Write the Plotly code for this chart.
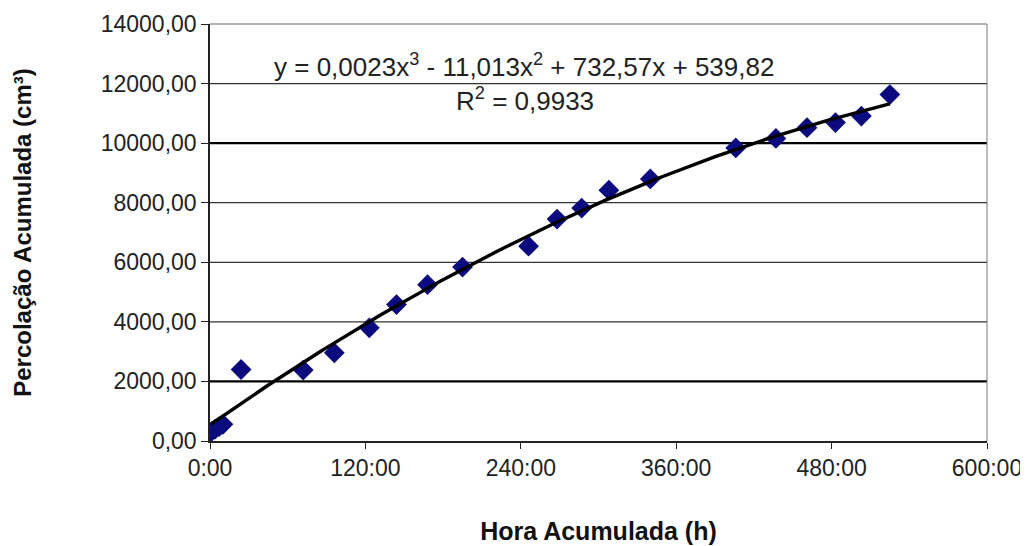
import numpy as np
import plotly.graph_objects as go

# measured points: accumulated time (h) and accumulated percolation (cm3)
hours = [1, 4, 7, 10, 24, 72, 96, 123, 144, 168, 195, 246, 268, 287, 308, 340,
         406, 437, 461, 483, 503, 525]
percolation = [310, 400, 480, 560, 2400, 2380, 2960, 3800, 4580, 5250, 5840, 6540,
               7450, 7820, 8420, 8800, 9840, 10160, 10520, 10690, 10910, 11630]

# cubic trendline as printed on the chart (x in days)
coefs = [0.0023, -11.013, 732.57, 539.82]
r2_text = "0,9933"

x_ticks = [0, 120, 240, 360, 480, 600]
x_tick_labels = ["0:00", "120:00", "240:00", "360:00", "480:00", "600:00"]
y_ticks = [0, 2000, 4000, 6000, 8000, 10000, 12000, 14000]
y_tick_labels = ["0,00", "2000,00", "4000,00", "6000,00", "8000,00",
                 "10000,00", "12000,00", "14000,00"]

font = "Liberation Sans, Arial, sans-serif"

# trend curve over the range of the data
trend_h = np.linspace(min(hours), max(hours), 200)
trend_y = np.polyval(coefs, trend_h / 24.0)

fig = go.Figure()

# gridlines: 2000 and 10000 drawn heavier, the rest thinner
for v in y_ticks[1:-1]:
    heavy = v in (2000, 10000)
    fig.add_shape(type="line", xref="x", yref="y", x0=0, x1=600, y0=v, y1=v,
                  line=dict(color="#000000" if heavy else "#333333",
                            width=2.2 if heavy else 1.3),
                  layer="below")

fig.add_trace(go.Scatter(
    x=hours, y=percolation, mode="markers",
    marker=dict(symbol="diamond", size=16, color="#0b0b7f"),
    showlegend=False,
))
fig.add_trace(go.Scatter(
    x=trend_h, y=trend_y, mode="lines",
    line=dict(color="#000000", width=3.4),
    showlegend=False,
))

# equation text
fig.add_annotation(x=0.404, y=0.945, xref="paper", yref="paper", showarrow=False,
                   text="y = 0,0023x<sup>3</sup> - 11,013x<sup>2</sup> + 732,57x + 539,82",
                   font=dict(family=font, size=26, color="#222222"))
fig.add_annotation(x=0.406, y=0.863, xref="paper", yref="paper", showarrow=False,
                   text="R<sup>2</sup> = " + r2_text,
                   font=dict(family=font, size=26, color="#222222"))

fig.update_xaxes(
    range=[0, 600], tickvals=x_ticks, ticktext=x_tick_labels,
    showgrid=False, zeroline=False, automargin=False,
    showline=True, linecolor="#222222", linewidth=1.5,
    mirror=False, ticks="outside", ticklen=6, tickcolor="#222222",
    tickfont=dict(family=font, size=23, color="#222222"),
    title=dict(text="<b>Hora Acumulada (h)</b>", standoff=42,
               font=dict(family=font, size=25, color="#111111")),
)
fig.update_yaxes(
    range=[0, 14000], tickvals=y_ticks, ticktext=y_tick_labels,
    showgrid=False, zeroline=False, automargin=False,
    showline=True, linecolor="#222222", linewidth=1.5,
    ticks="outside", ticklen=7, tickcolor="#222222",
    tickfont=dict(family=font, size=23, color="#222222"),
    title=dict(text="<b>Percolação Acumulada (cm³)</b>", standoff=62,
               font=dict(family=font, size=24, color="#111111")),
)

# top and right frame lines in light gray
fig.add_shape(type="line", xref="paper", yref="paper", x0=0, x1=1, y0=1, y1=1,
              line=dict(color="#999999", width=1.5))
fig.add_shape(type="line", xref="paper", yref="paper", x0=1, x1=1, y0=0, y1=1,
              line=dict(color="#777777", width=1))

# page body adds 8px around the figure, so size it to fit the window
fig.update_layout(
    width=1020, height=538,
    margin=dict(l=202, r=41, t=16, b=105),
    plot_bgcolor="white", paper_bgcolor="white",
    font=dict(family=font),
)

fig.write_html("out.html")
